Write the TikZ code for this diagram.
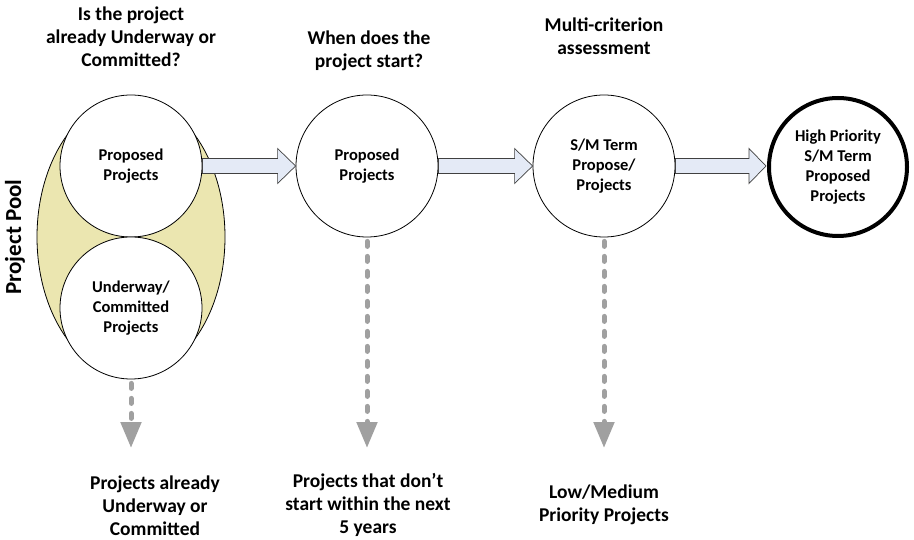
\documentclass[tikz,border=0pt]{standalone}
\usepackage{fontspec}
\setmainfont{Carlito}
\usetikzlibrary{calc,arrows.meta}
\definecolor{poolyellow}{RGB}{235,230,176}
\definecolor{arrowblue}{RGB}{228,234,246}
\definecolor{dashgrey}{RGB}{160,160,160}
\definecolor{arrowline}{RGB}{64,64,64}
\begin{document}
\begin{tikzpicture}[x=1pt,y=-1pt,
  circ/.style={circle, draw=black, fill=white, minimum size=142pt, inner sep=0pt,
    align=center, line width=0.8pt, font=\fontsize{16.5}{20}\selectfont\bfseries},
  head/.style={align=center, font=\fontsize{19.5}{23}\selectfont\bfseries},
  blockarrow/.style={draw=arrowline, fill=arrowblue, line width=0.7pt, line join=miter},
  dasharrow/.style={draw=dashgrey, line width=5pt, line cap=round,
    dash pattern=on 5pt off 10pt, shorten <=4pt,
    -{Triangle[width=20pt,length=26pt,fill=dashgrey]}}
]
\useasboundingbox (0,0) rectangle (914,540);
% pool
\draw[fill=poolyellow, line width=0.8pt] (131,237) ellipse [x radius=94, y radius=139];
\node[circ] (c1) at (131,166) {Proposed\\Projects};
\node[circ] (c1b) at (131,308) {Underway/\\Committed\\Projects};
\node[circ] (c2) at (367,166) {Proposed\\Projects};
\node[circ] (c3) at (604,166) {S/M Term\\Propose/\\Projects};
\node[circ, line width=4pt, minimum size=138pt] (c4) at (838,167) {High Priority\\S/M Term\\Proposed\\Projects};
\node[rotate=90, font=\fontsize{23}{27}\selectfont\bfseries] (pool) at (15,237) {Project Pool};
% headings
\node[head] (h1) at (131,37) {Is the project\\already Underway or\\Committed?};
\node[head] (h2) at (369,51) {When does the\\project start?};
\node[head] (h3) at (604,36) {Multi-criterion\\assessment};
% block arrows
\draw[blockarrow] let \p1=(c1.east), \p2=(c2.west) in
  (\x1,\y1+7.5pt) -- (\x2-18pt,\y1+7.5pt) -- (\x2-18pt,\y1+17.5pt) -- (\p2)
  -- (\x2-18pt,\y1-17.5pt) -- (\x2-18pt,\y1-7.5pt) -- (\x1,\y1-7.5pt) -- cycle;
\draw[blockarrow] let \p1=(c2.east), \p2=(c3.west) in
  (\x1,\y1+7.5pt) -- (\x2-18pt,\y1+7.5pt) -- (\x2-18pt,\y1+17.5pt) -- (\p2)
  -- (\x2-18pt,\y1-17.5pt) -- (\x2-18pt,\y1-7.5pt) -- (\x1,\y1-7.5pt) -- cycle;
\draw[blockarrow] let \p1=(c3.east), \p2=(c4.west) in
  (\x1,\y1+7.5pt) -- (\x2-18pt,\y1+7.5pt) -- (\x2-18pt,\y1+17.5pt) -- (\x2-1pt,\y1)
  -- (\x2-18pt,\y1-17.5pt) -- (\x2-18pt,\y1-7.5pt) -- (\x1,\y1-7.5pt) -- cycle;
% dashed arrows
\coordinate (e1) at (131,448);
\coordinate (e2) at (367,448);
\coordinate (e3) at (604,448);
\draw[dasharrow] (c1b.south) -- (e1);
\draw[dasharrow] (c2.south) -- (e2);
\draw[dasharrow] (c3.south) -- (e3);
% bottom labels
\node[head] (b1) at (155,506) {Projects already\\Underway or\\Committed};
\node[head] (b2) at (368,505) {Projects that don’t\\start within the next\\5 years};
\node[head] (b3) at (604,505) {Low/Medium\\Priority Projects};
\end{tikzpicture}
\end{document}
